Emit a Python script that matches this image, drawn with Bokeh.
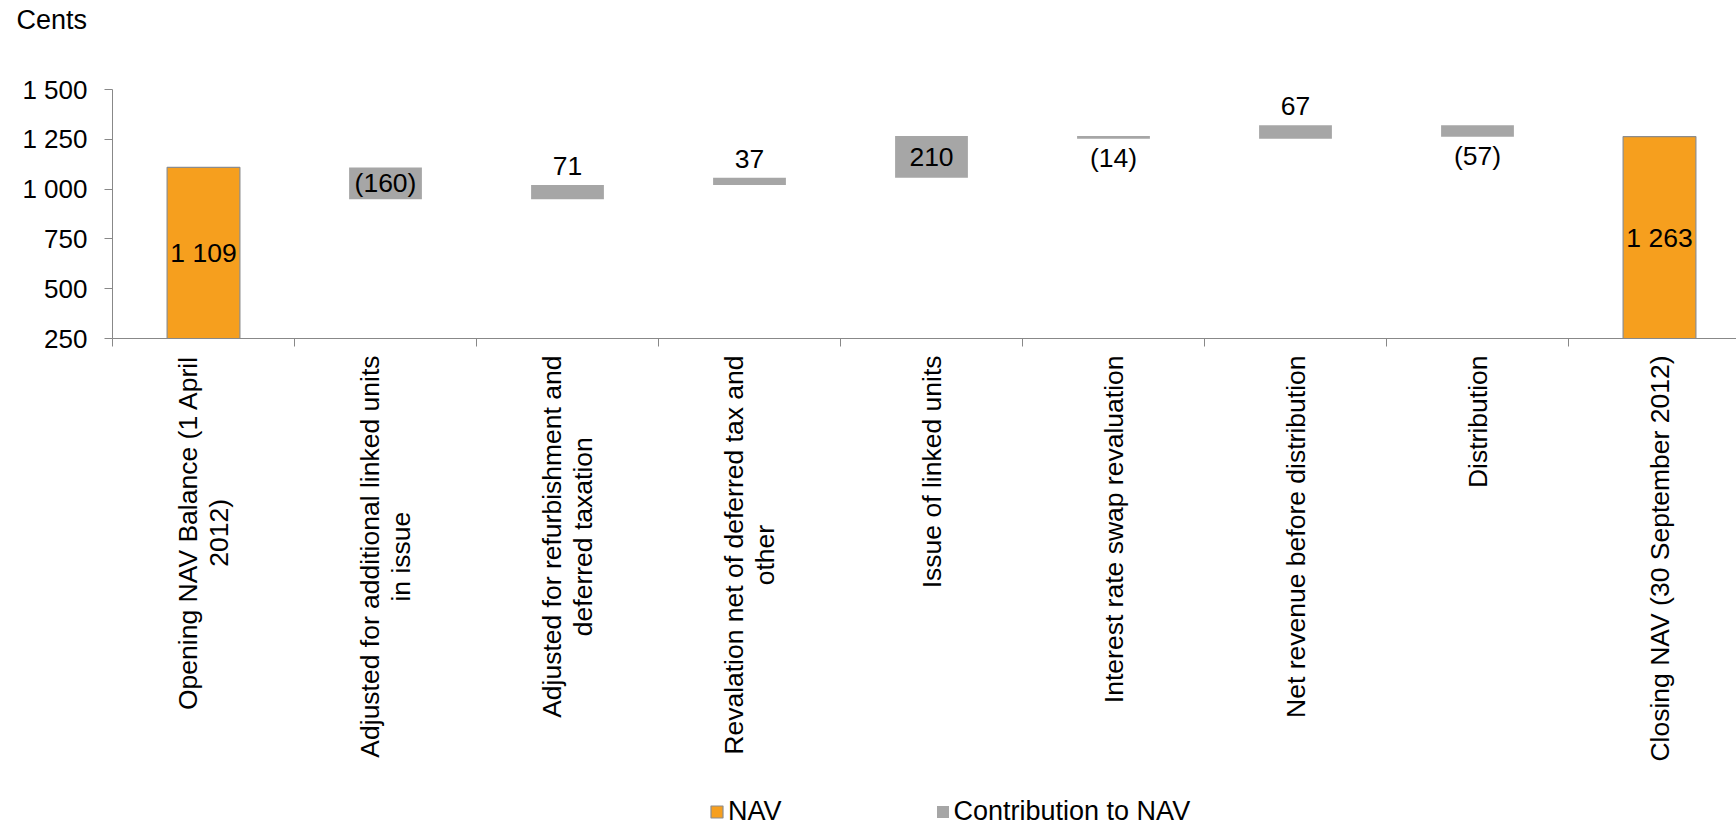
import math

from bokeh.core.properties import value
from bokeh.embed import file_html
from bokeh.models import (ColumnDataSource, FixedTicker, Label, LabelSet,
                          Legend, LegendItem, LinearAxis, Range1d)
from bokeh.plotting import figure
from bokeh.resources import INLINE

# ---- data -------------------------------------------------------------
categories = [
    "Opening NAV Balance (1 April\n2012)",
    "Adjusted for additional linked units\nin issue",
    "Adjusted for refurbishment and\ndeferred taxation",
    "Revalation net of deferred tax and\nother",
    "Issue of linked units",
    "Interest rate swap revaluation",
    "Net revenue before distribution",
    "Distribution",
    "Closing NAV (30 September 2012)",
]
opening_nav = 1109
contributions = [-160, 71, 37, 210, -14, 67, -57]
closing_nav = 1263

y_ticks = [250, 500, 750, 1000, 1250, 1500]
y_tick_labels = ["250", "500", "750", "1 000", "1 250", "1 500"]

legend_labels = ["NAV", "Contribution to NAV"]
y_unit = "Cents"

# ---- styling ----------------------------------------------------------
FONT = "Liberation Sans"
ORANGE = "#F69F1E"
GREY_BAR = "#A6A6A6"
AXIS_GREY = "#888888"
BAR_WIDTH = 0.4


def fmt(v):
    s = f"{abs(v):,}".replace(",", " ")
    return f"({s})" if v < 0 else s


# ---- derived geometry -------------------------------------------------
n = len(categories)
centers = [i + 0.5 for i in range(n)]
base = y_ticks[0]

nav_src = ColumnDataSource(dict(
    x=[centers[0], centers[-1]],
    bottom=[base, base],
    top=[opening_nav, closing_nav],
))

running = opening_nav
c_x, c_bottom, c_top = [], [], []
for i, v in enumerate(contributions):
    start, end = running, running + v
    c_x.append(centers[i + 1])
    c_bottom.append(min(start, end))
    c_top.append(max(start, end))
    running = end
contrib_src = ColumnDataSource(dict(x=c_x, bottom=c_bottom, top=c_top))

# value labels: centred inside the larger bars, outside the small ones
lab_x, lab_y, lab_text, lab_off = [], [], [], []
for x, val in [(centers[0], opening_nav), (centers[-1], closing_nav)]:
    lab_x.append(x)
    lab_y.append((base + val) / 2)
    lab_text.append(fmt(val))
    lab_off.append(0)
for x, b, t, v in zip(c_x, c_bottom, c_top, contributions):
    lab_x.append(x)
    lab_text.append(fmt(v))
    if abs(v) >= 100:
        lab_y.append((b + t) / 2)
        lab_off.append(0)
    elif v > 0:
        lab_y.append(t)
        lab_off.append(19)
    else:
        lab_y.append(b)
        lab_off.append(-19)
label_src = ColumnDataSource(dict(x=lab_x, y=lab_y, text=lab_text, off=lab_off))

# ---- figure -----------------------------------------------------------
# The plotting frame fills the whole canvas; both axes sit at fixed
# locations inside it so that the rotated category names, the unit
# caption and the legend are drawn without being clipped.
W, H = 1736, 827
AXIS_X_PX = 112                   # y axis position from the left edge
TOP_TICK_PX, BASE_PX = 89, 338    # screen rows of the top and bottom ticks
CAT_W = 182.0                     # category width in pixels

units_per_px = (y_ticks[-1] - y_ticks[0]) / (BASE_PX - TOP_TICK_PX)
y_start = y_ticks[0] - (H - BASE_PX) * units_per_px
y_end = y_ticks[-1] + TOP_TICK_PX * units_per_px
x_start = -AXIS_X_PX / CAT_W
x_end = (W - AXIS_X_PX) / CAT_W

p = figure(
    width=W, height=H,
    x_range=Range1d(x_start, x_end), y_range=Range1d(y_start, y_end),
    min_border=0, x_axis_location=None, y_axis_location=None,
    output_backend="svg", toolbar_location=None,
    background_fill_color="white", border_fill_color="white",
)
p.outline_line_color = None
p.xgrid.visible = False
p.ygrid.visible = False

ya = LinearAxis(
    fixed_location=0, bounds=(y_ticks[0], y_ticks[-1]),
    ticker=FixedTicker(ticks=y_ticks),
    major_label_overrides=dict(zip(y_ticks, y_tick_labels)),
    major_label_text_font=FONT, major_label_text_font_size="26px",
    major_label_text_color="black", major_label_standoff=17,
    axis_line_color=AXIS_GREY, major_tick_line_color=AXIS_GREY,
    major_tick_out=8, major_tick_in=0, minor_tick_line_color=None,
)
p.add_layout(ya, "left")

xa = LinearAxis(
    fixed_location=base, bounds=(0, x_end),
    ticker=FixedTicker(ticks=[], minor_ticks=list(range(n))),
    axis_line_color=AXIS_GREY, major_tick_line_color=None,
    minor_tick_line_color=AXIS_GREY, minor_tick_out=8, minor_tick_in=0,
)
p.add_layout(xa, "below")

nav_r = p.vbar(x="x", bottom="bottom", top="top", width=BAR_WIDTH,
               source=nav_src, fill_color=ORANGE, line_color="#8C8C8C",
               line_width=1.2)
con_r = p.vbar(x="x", bottom="bottom", top="top", width=BAR_WIDTH,
               source=contrib_src, fill_color=GREY_BAR, line_color=None)

p.add_layout(LabelSet(x="x", y="y", text="text", y_offset="off",
                      source=label_src, text_align="center",
                      text_baseline="middle", text_font=value(FONT),
                      text_font_size="26.5px", text_color="black"))

for c, name in zip(centers, categories):
    p.add_layout(Label(
        x=c, y=base, y_offset=-17, text=name,
        angle=math.pi / 2, anchor="center_right", text_align="center",
        text_font=FONT, text_font_size="26.5px", text_color="black",
        text_line_height=1.05,
    ))

p.add_layout(Label(
    x=16, y=H - 19, x_units="screen", y_units="screen", text=y_unit,
    text_font=FONT, text_font_size="27px", text_color="black",
    text_baseline="middle", text_align="left",
))

legend = Legend(
    items=[LegendItem(label=legend_labels[0], renderers=[nav_r]),
           LegendItem(label=legend_labels[1], renderers=[con_r])],
    orientation="horizontal", location=(709, 0),
    glyph_width=15, glyph_height=15, label_standoff=4, spacing=153,
    padding=0, margin=0,
    label_text_font=FONT, label_text_font_size="27px",
    label_text_color="black",
    background_fill_alpha=0, border_line_color=None,
)
p.add_layout(legend, "center")

open("out.html", "w").write(file_html(p, INLINE))
